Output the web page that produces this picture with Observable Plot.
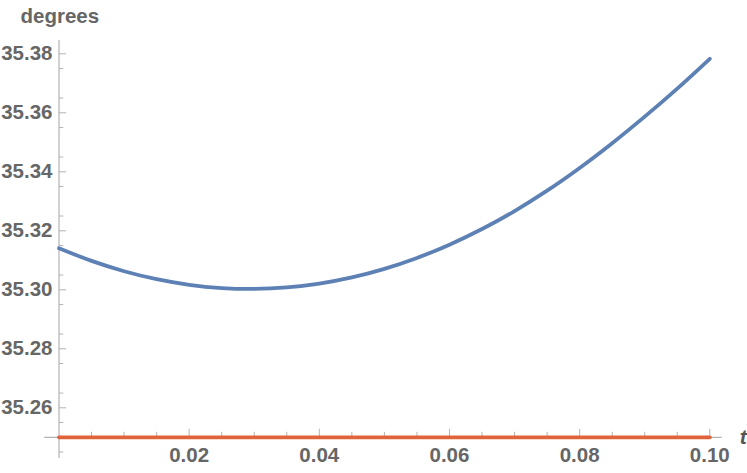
<!DOCTYPE html>
<html>
<head>
<meta charset="utf-8">
<script src="https://cdn.jsdelivr.net/npm/d3@7"></script>
<script src="https://cdn.jsdelivr.net/npm/@observablehq/plot@0.6"></script>
<style>
  html, body { margin: 0; padding: 0; background: #fff; }
  #chart svg { display: block; }
</style>
</head>
<body>
<div id="chart"></div>
<script>
// ---- data ----
const tBlue = [0, 0.005, 0.01, 0.015, 0.02, 0.025, 0.03, 0.035, 0.04, 0.045, 0.05,
               0.055, 0.06, 0.065, 0.07, 0.075, 0.08, 0.085, 0.09, 0.095, 0.1];
const vBlue = [35.3141, 35.3098, 35.3063, 35.3036, 35.3017, 35.3006, 35.3003, 35.3008,
               35.3021, 35.3042, 35.3071, 35.3108, 35.3153, 35.3206, 35.3267, 35.3336,
               35.3413, 35.3497, 35.3587, 35.3682, 35.3783];
const tOrange = [0, 0.1];
const vOrange = [35.25, 35.25];

const xMajor = [0.02, 0.04, 0.06, 0.08, 0.10];
const xMajorLabels = ["0.02", "0.04", "0.06", "0.08", "0.10"];
const xMinor = [0.005, 0.01, 0.015, 0.025, 0.03, 0.035, 0.045, 0.05, 0.055, 0.065, 0.07, 0.075, 0.085, 0.09, 0.095];
const yMajor = [35.26, 35.28, 35.30, 35.32, 35.34, 35.36, 35.38];
const yMajorLabels = ["35.26", "35.28", "35.30", "35.32", "35.34", "35.36", "35.38"];
const yMinor = [35.245, 35.255, 35.265, 35.275, 35.285, 35.295, 35.305, 35.315, 35.325,
                35.335, 35.345, 35.355, 35.365, 35.375];

const yAxisLabel = "degrees";
const xAxisLabel = "t";

const axisOriginX = 0;
const axisOriginY = 35.25;
const xAxisExtent = [-0.0022, 0.1019];
const yAxisExtent = [35.2428, 35.3845];

const blueData = tBlue.map((t, i) => ({t, v: vBlue[i]}));
const orangeData = tOrange.map((t, i) => ({t, v: vOrange[i]}));

// custom tick symbols (pixel lengths)
const tickRight = len => ({draw(ctx) { ctx.moveTo(0, 0); ctx.lineTo(len, 0); }});
const tickUp = len => ({draw(ctx) { ctx.moveTo(0, 0); ctx.lineTo(0, -len); }});

const axisColor = "#b3b3b3";
const labelColor = "#666666";
const font = "Liberation Sans, Arial, sans-serif";
const fs = 20.5;

const chart = Plot.plot({
  width: 747,
  height: 473,
  marginTop: 0, marginLeft: 0, marginRight: 0, marginBottom: 0,
  style: {fontFamily: font, background: "#fff"},
  x: {domain: [0, 0.1], range: [58.5, 709.3], axis: null},
  y: {domain: [35.26, 35.38], range: [407.3, 53.3], axis: null},
  marks: [
    // axis lines
    Plot.ruleY([axisOriginY], {x1: xAxisExtent[0], x2: xAxisExtent[1], stroke: axisColor, strokeWidth: 1.2}),
    Plot.ruleX([axisOriginX], {y1: yAxisExtent[0], y2: yAxisExtent[1], stroke: axisColor, strokeWidth: 1.2}),
    // y ticks
    Plot.dot(yMajor, {x: () => axisOriginX, y: d => d, symbol: tickRight(7.2), fill: "none", stroke: axisColor, strokeWidth: 1}),
    Plot.dot(yMinor, {x: () => axisOriginX, y: d => d, symbol: tickRight(4.3), fill: "none", stroke: axisColor, strokeWidth: 1}),
    // x ticks
    Plot.dot(xMajor, {x: d => d, y: () => axisOriginY, symbol: tickUp(8.5), fill: "none", stroke: axisColor, strokeWidth: 1}),
    Plot.dot(xMinor, {x: d => d, y: () => axisOriginY, symbol: tickUp(5.5), fill: "none", stroke: axisColor, strokeWidth: 1}),
    // tick labels
    Plot.text(yMajor, {x: () => axisOriginX, y: d => d, text: (d, i) => yMajorLabels[i], textAnchor: "end", dx: -6.5,
      fontSize: fs, fontWeight: "bold", fill: labelColor}),
    Plot.text(xMajor, {x: d => d, y: () => axisOriginY, text: (d, i) => xMajorLabels[i], textAnchor: "middle", lineAnchor: "top", dy: 10.5,
      fontSize: fs, fontWeight: "bold", fill: labelColor}),
    // axis labels
    Plot.text([yAxisLabel], {x: () => axisOriginX, y: () => yAxisExtent[1], text: d => d, textAnchor: "start", dx: -38.5,
      lineAnchor: "bottom", dy: -18, fontSize: fs, fontWeight: "bold", fill: labelColor}),
    Plot.text([xAxisLabel], {x: () => xAxisExtent[1], y: () => axisOriginY, text: d => d, textAnchor: "middle", dx: 21,
      fontSize: 21, fontStyle: "italic", fontWeight: "bold", fill: "#555555"}),
    // series
    Plot.line(orangeData, {x: "t", y: "v", stroke: "#E0633A", strokeWidth: 3.8}),
    Plot.line(blueData, {x: "t", y: "v", stroke: "#5E81B5", strokeWidth: 3.8, curve: "catmull-rom"})
  ]
});
document.getElementById("chart").appendChild(chart);
</script>
</body>
</html>
